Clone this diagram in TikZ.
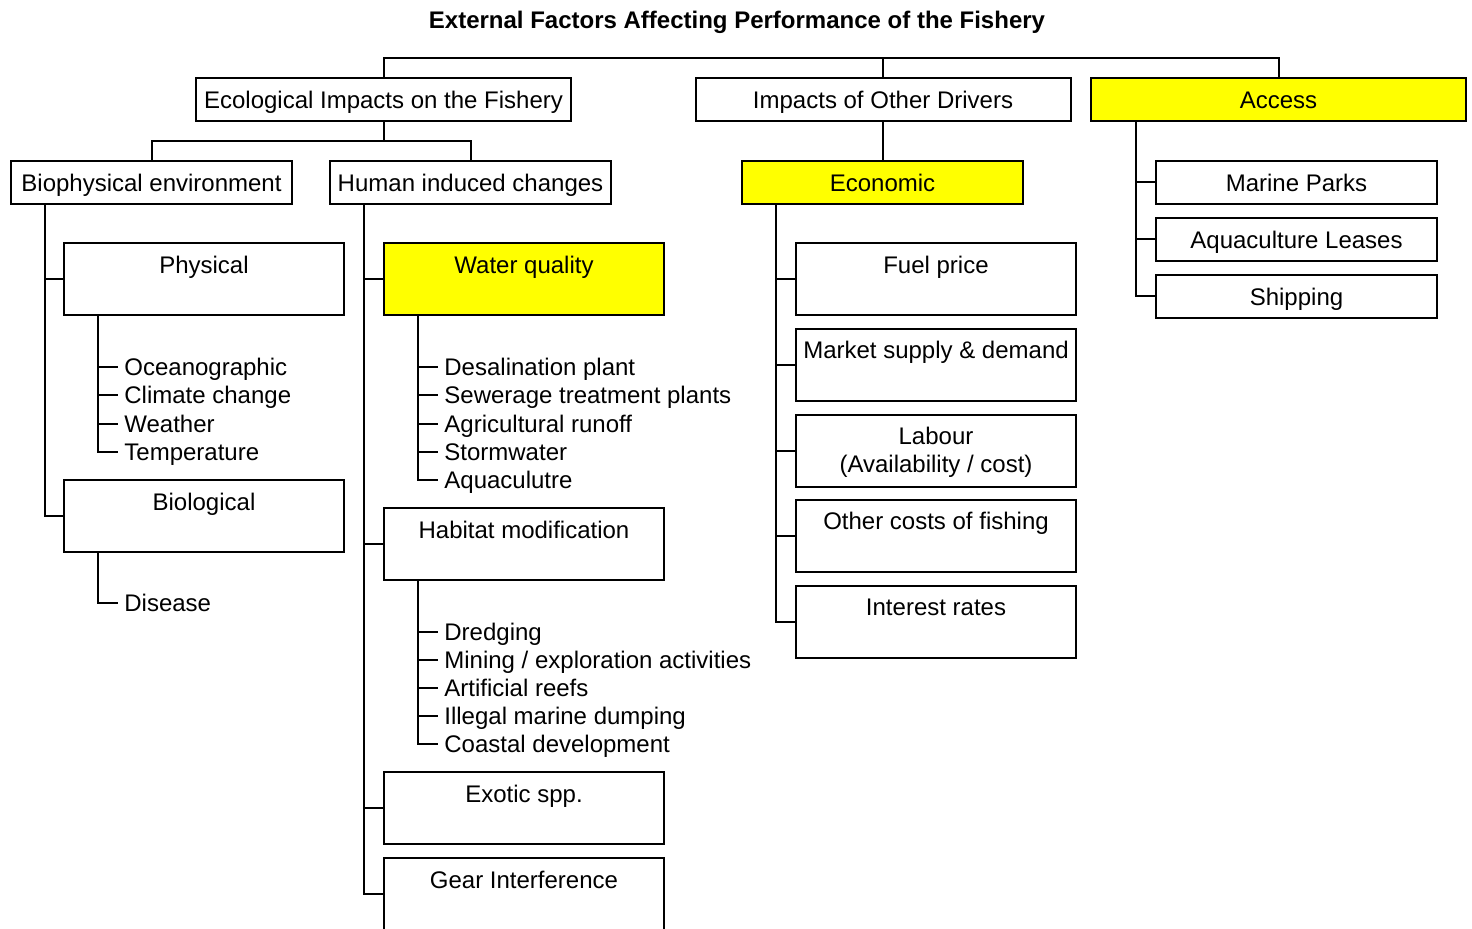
\documentclass[tikz,border=0pt]{standalone}
\usepackage{fontspec}
\setmainfont{Liberation Sans}
\definecolor{hiyellow}{RGB}{255,255,0}
\begin{document}
\begin{tikzpicture}[x=0.5pt,y=-0.5pt,
  font=\fontsize{12}{14}\selectfont,
  every node/.style={text height=8.6pt, text depth=0pt},
  box/.style={draw, line width=1pt, inner sep=0pt, outer sep=0pt, anchor=north west,
              minimum width=140.5pt, minimum height=21.5pt},
  wide/.style={box, minimum width=187.5pt},
  tall/.style={box, minimum width=140pt, minimum height=36pt},
  hl/.style={fill=hiyellow},
  item/.style={anchor=west, inner xsep=3pt, inner ysep=0pt},
  link/.style={line width=1pt}]
\useasboundingbox (0,0) rectangle (1472,929);
\clip (0,0) rectangle (1472,929);

% title
\node[font=\fontsize{12}{14}\selectfont\bfseries] (title) at (737,20)
  {External Factors Affecting Performance of the Fishery};

% first level
\node[wide] (eco) at (196,78) {Ecological Impacts on the Fishery};
\node[wide] (oth) at (695.5,78) {Impacts of Other Drivers};
\node[wide,hl] (acc) at (1091,78) {Access};

% second level
\node[box] (bio) at (11,161) {Biophysical environment};
\node[box] (hum) at (330,161) {Human induced changes};
\node[box,hl] (econ) at (742,161) {Economic};

% access branch
\node[box] (mp)  at (1156,161) {Marine Parks};
\node[box] (aql) at (1156,218) {Aquaculture Leases};
\node[box] (shp) at (1156,275) {Shipping};

% biophysical branch
\node[tall] (phys) at (64,243) {};
\node (physL) at ([yshift=-10.75pt]phys.north) {Physical};
\node[tall] (biol) at (64,480) {};
\node (biolL) at ([yshift=-10.75pt]biol.north) {Biological};

\node[item] (p1) at (118,367) {Oceanographic};
\node[item] (p2) at (118,395.3) {Climate change};
\node[item] (p3) at (118,423.7) {Weather};
\node[item] (p4) at (118,452) {Temperature};
\node[item] (d1) at (118,603) {Disease};

% human induced branch
\node[tall,hl] (wq) at (384,243) {};
\node (wqL) at ([yshift=-10.75pt]wq.north) {Water quality};
\node[tall] (hab) at (384,508) {};
\node (habL) at ([yshift=-10.75pt]hab.north) {Habitat modification};
\node[tall] (exo) at (384,772) {};
\node (exoL) at ([yshift=-10.75pt]exo.north) {Exotic spp.};
\node[tall] (gear) at (384,858) {};
\node (gearL) at ([yshift=-10.75pt]gear.north) {Gear Interference};

\node[item] (w1) at (438,367) {Desalination plant};
\node[item] (w2) at (438,395.3) {Sewerage treatment plants};
\node[item] (w3) at (438,423.7) {Agricultural runoff};
\node[item] (w4) at (438,452) {Stormwater};
\node[item] (w5) at (438,480.3) {Aquaculutre};

\node[item] (h1) at (438,632) {Dredging};
\node[item] (h2) at (438,660) {Mining / exploration activities};
\node[item] (h3) at (438,688) {Artificial reefs};
\node[item] (h4) at (438,716) {Illegal marine dumping};
\node[item] (h5) at (438,744) {Coastal development};

% economic branch
\node[tall] (fuel) at (796,243) {};
\node (fuelL) at ([yshift=-10.75pt]fuel.north) {Fuel price};
\node[tall] (mkt) at (796,329) {};
\node (mktL) at ([yshift=-10.5pt]mkt.north) {Market supply \& demand};
\node[tall] (lab) at (796,415) {};
\node (labL1) at ([yshift=-10.5pt]lab.north) {Labour};
\node (labL2) at ([yshift=-24.5pt]lab.north) {(Availability / cost)};
\node[tall] (ocf) at (796,500) {};
\node (ocfL) at ([yshift=-10.5pt]ocf.north) {Other costs of fishing};
\node[tall] (intr) at (796,586) {};
\node (intrL) at ([yshift=-10.5pt]intr.north) {Interest rates};

% connectors: top bus
\draw[link] (eco.north) -- ++(0,-20) -| (acc.north);
\draw[link] (oth.north) -- ++(0,-20);
\draw[link] (eco.south) -- ++(0,20) coordinate (ebus);
\draw[link] (bio.north) |- (ebus) -| (hum.north);
\draw[link] (econ.north) -- (econ.north |- oth.south);

% access spine
\coordinate (accv) at ([xshift=22.5pt]acc.south west);
\draw[link] (accv) |- (shp.west);
\draw[link] (accv |- mp.west) -- (mp.west);
\draw[link] (accv |- aql.west) -- (aql.west);

% biophysical spine
\coordinate (biov) at ([xshift=17pt]bio.south west);
\draw[link] (biov) |- (biol.west);
\draw[link] (biov |- phys.west) -- (phys.west);

\coordinate (physv) at ([xshift=17pt]phys.south west);
\draw[link] (physv) |- (p4.west);
\foreach \n in {p1,p2,p3} \draw[link] (physv |- \n.west) -- (\n.west);

\coordinate (biolv) at ([xshift=17pt]biol.south west);
\draw[link] (biolv) |- (d1.west);

% human induced spine
\coordinate (humv) at ([xshift=17pt]hum.south west);
\draw[link] (humv) |- (gear.west);
\foreach \n in {wq,hab,exo} \draw[link] (humv |- \n.west) -- (\n.west);

\coordinate (wqv) at ([xshift=17pt]wq.south west);
\draw[link] (wqv) |- (w5.west);
\foreach \n in {w1,w2,w3,w4} \draw[link] (wqv |- \n.west) -- (\n.west);

\coordinate (habv) at ([xshift=17pt]hab.south west);
\draw[link] (habv) |- (h5.west);
\foreach \n in {h1,h2,h3,h4} \draw[link] (habv |- \n.west) -- (\n.west);

% economic spine
\coordinate (econv) at ([xshift=17pt]econ.south west);
\draw[link] (econv) |- (intr.west);
\foreach \n in {fuel,mkt,lab,ocf} \draw[link] (econv |- \n.west) -- (\n.west);
\end{tikzpicture}
\end{document}
